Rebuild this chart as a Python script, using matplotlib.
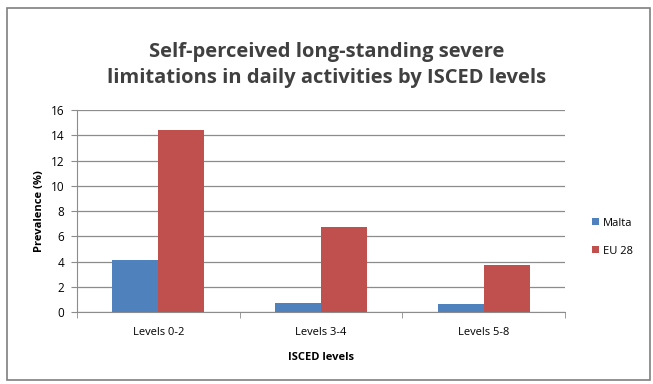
import matplotlib
matplotlib.use("Agg")
import matplotlib.pyplot as plt
from matplotlib.patches import Rectangle
import numpy as np

categories = ["Levels 0-2", "Levels 3-4", "Levels 5-8"]
malta = [4.1, 0.7, 0.6]
eu28 = [14.4, 6.7, 3.7]
series_names = ["Malta", "EU 28"]
yticks = [0, 2, 4, 6, 8, 10, 12, 14, 16]

plt.rcParams['font.family'] = ['Open Sans', 'DejaVu Sans']

fig = plt.figure(figsize=(6.53, 3.84), dpi=100)
fig.patch.set_facecolor("white")

# chart frame
fig.patches.append(Rectangle((7 / 653, 4 / 384), 643 / 653, 372 / 384,
                             transform=fig.transFigure, fill=False,
                             edgecolor="#7f7f7f", linewidth=1.2))

ax = fig.add_axes([0.118, 0.1875, 0.747, 0.526])
x = np.arange(len(categories))
w = 0.283
ax.bar(x - w / 2, malta, width=w, color="#4F81BD", label=series_names[0], zorder=3)
ax.bar(x + w / 2, eu28, width=w, color="#C0504D", label=series_names[1], zorder=3)

ax.set_xlim(-0.5, 2.5)
ax.set_ylim(0, 16)
ax.set_yticks(yticks)
ax.yaxis.grid(True, color="#8c8c8c", linewidth=0.9, zorder=0)
ax.set_axisbelow(True)

ax.set_xticks(x)
ax.set_xticklabels(categories, fontsize=8)
ax.set_xticks([-0.5, 0.5, 1.5, 2.5], minor=True)
ax.tick_params(axis="x", which="major", length=0, pad=11)
ax.tick_params(axis="x", which="minor", length=4, color="#8c8c8c")
ax.tick_params(axis="y", length=4, color="#8c8c8c", labelsize=8.5, pad=5)

for side in ["top", "right"]:
    ax.spines[side].set_visible(False)
for side in ["left", "bottom"]:
    ax.spines[side].set_color("#8c8c8c")

ax.set_ylabel("Prevalence (%)", fontsize=8, fontweight="bold", labelpad=4)
ax.set_xlabel("ISCED levels", fontsize=8, fontweight="bold", labelpad=10)

fig.text(0.5, 0.83, "Self-perceived long-standing severe\nlimitations in daily activities by ISCED levels",
         ha="center", va="center", fontsize=14.5, fontweight="bold",
         color="#404040", linespacing=1.4)

leg = ax.legend(loc="center left", bbox_to_anchor=(1.035, 0.37), frameon=False,
                fontsize=8, handlelength=0.6, handleheight=0.6,
                handletextpad=0.4, labelspacing=1.55)

fig.savefig("out.png", dpi=100)
